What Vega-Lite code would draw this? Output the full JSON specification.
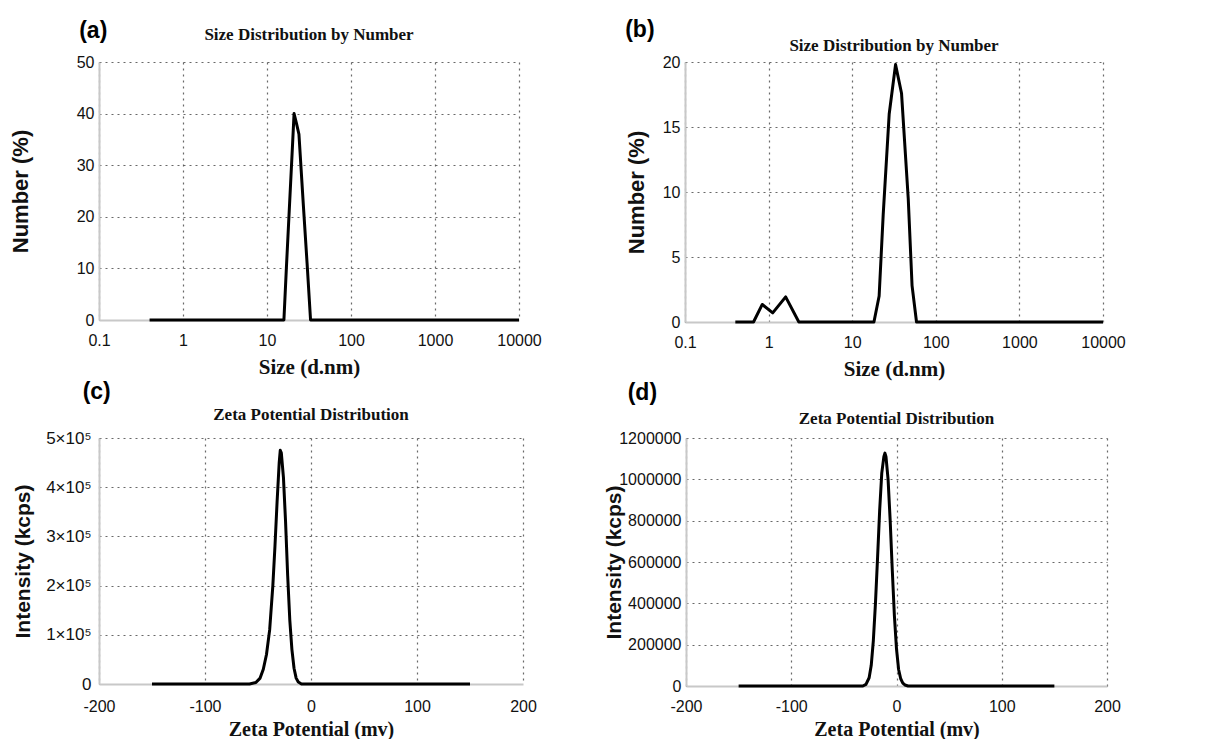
{
  "$schema": "https://vega.github.io/schema/vega-lite/v6.json",
  "background": "white",
  "padding": {"left": 9, "top": 19, "right": 0, "bottom": 0},
  "config": {
    "view": {"stroke": null},
    "title": {"font": "Liberation Serif", "fontWeight": "bold", "fontSize": 17, "color": "#111", "anchor": "middle", "offset": 10},
    "axis": {
      "domainColor": "#c8c8c8", "domainWidth": 2,
      "ticks": false,
      "labelFont": "Liberation Sans", "labelFontSize": 16, "labelColor": "#111",
      "gridColor": "#444", "gridDash": [2, 4], "gridWidth": 1.2, "gridOpacity": 0.8,
      "titleColor": "#111", "labelExpr": "datum.value + ''"
    },
    "axisX": {"titleFont": "Liberation Serif", "titleFontWeight": "bold", "titleFontSize": 21, "titlePadding": 8, "labelPadding": 12, "labelFlush": false},
    "axisY": {"titleFont": "Liberation Sans", "titleFontWeight": "bold", "titleFontSize": 22, "labelPadding": 5},
    "line": {"color": "#000", "strokeWidth": 3, "strokeJoin": "round"},
    "concat": {"spacing": 0}
  },
  "spacing": 2,
  "vconcat": [
    {
      "spacing": 83,
      "hconcat": [
        {
          "title": {"text": "(a)", "font": "Liberation Sans", "fontSize": 23, "fontWeight": "bold", "anchor": "start", "dx": 70, "dy": 27, "color": "#000"},
          "vconcat": [
            {
              "title": "Size Distribution by Number",
              "width": 420, "height": 258,
              "data": {"values": [
                {"size": 0.4, "pct": 0}, {"size": 15.9, "pct": 0}, {"size": 17, "pct": 10},
                {"size": 18.5, "pct": 22}, {"size": 20, "pct": 33}, {"size": 21, "pct": 40},
                {"size": 22.5, "pct": 38}, {"size": 24, "pct": 36}, {"size": 27, "pct": 22.6},
                {"size": 30, "pct": 11}, {"size": 33, "pct": 0}, {"size": 10000, "pct": 0}
              ]},
              "mark": {"type": "line"},
              "encoding": {
                "x": {"field": "size", "type": "quantitative", "scale": {"type": "log", "domain": [0.1, 10000]},
                      "axis": {"title": "Size (d.nm)", "values": [0.1, 1, 10, 100, 1000, 10000]}},
                "y": {"field": "pct", "type": "quantitative", "scale": {"domain": [0, 50]},
                      "axis": {"title": "Number (%)", "values": [0, 10, 20, 30, 40, 50], "titlePadding": 44}}
              }
            }
          ]
        },
        {
          "title": {"text": "(b)", "font": "Liberation Sans", "fontSize": 23, "fontWeight": "bold", "anchor": "start", "dx": 0, "dy": 24, "offset": 19, "color": "#000"},
          "vconcat": [
            {
              "title": {"text": "Size Distribution by Number", "offset": -1},
              "width": 418, "height": 260,
              "data": {"values": [
                {"size": 0.4, "pct": 0}, {"size": 0.66, "pct": 0}, {"size": 0.84, "pct": 1.35},
                {"size": 1.12, "pct": 0.7}, {"size": 1.6, "pct": 1.93}, {"size": 2.3, "pct": 0},
                {"size": 18.2, "pct": 0}, {"size": 21, "pct": 2.0}, {"size": 23.5, "pct": 8.3},
                {"size": 27.7, "pct": 16}, {"size": 33, "pct": 19.8}, {"size": 38.9, "pct": 17.6},
                {"size": 46.8, "pct": 9.5}, {"size": 52, "pct": 2.8}, {"size": 58.8, "pct": 0},
                {"size": 10000, "pct": 0}
              ]},
              "mark": {"type": "line"},
              "encoding": {
                "x": {"field": "size", "type": "quantitative", "scale": {"type": "log", "domain": [0.1, 10000]},
                      "axis": {"title": "Size (d.nm)", "values": [0.1, 1, 10, 100, 1000, 10000]}},
                "y": {"field": "pct", "type": "quantitative", "scale": {"domain": [0, 20]},
                      "axis": {"title": "Number (%)", "values": [0, 5, 10, 15, 20], "titlePadding": 14}}
              }
            }
          ]
        }
      ]
    },
    {
      "spacing": 66,
      "hconcat": [
        {
          "title": {"text": "(c)", "font": "Liberation Sans", "fontSize": 23, "fontWeight": "bold", "anchor": "start", "dx": 70, "dy": 8, "color": "#000"},
          "vconcat": [
            {
              "title": {"text": "Zeta Potential Distribution", "offset": 5},
              "width": 424, "height": 246,
              "data": {"values": [
                {"zeta": -150, "intensity": 0}, {"zeta": -58, "intensity": 0}, {"zeta": -52, "intensity": 3000},
                {"zeta": -48, "intensity": 12000}, {"zeta": -45, "intensity": 30000}, {"zeta": -42, "intensity": 60000},
                {"zeta": -39, "intensity": 110000}, {"zeta": -36, "intensity": 200000}, {"zeta": -34, "intensity": 280000},
                {"zeta": -32, "intensity": 370000}, {"zeta": -30, "intensity": 450000}, {"zeta": -29, "intensity": 475000},
                {"zeta": -28, "intensity": 470000}, {"zeta": -26, "intensity": 420000}, {"zeta": -24, "intensity": 330000},
                {"zeta": -22, "intensity": 220000}, {"zeta": -20, "intensity": 130000}, {"zeta": -18, "intensity": 70000},
                {"zeta": -16, "intensity": 32000}, {"zeta": -14, "intensity": 12000}, {"zeta": -12, "intensity": 4000},
                {"zeta": -9, "intensity": 0}, {"zeta": 150, "intensity": 0}
              ]},
              "mark": {"type": "line"},
              "encoding": {
                "x": {"field": "zeta", "type": "quantitative", "scale": {"domain": [-200, 200]},
                      "axis": {"title": "Zeta Potential (mv)", "values": [-200, -100, 0, 100, 200], "titleFontSize": 20, "labelPadding": 14, "titlePadding": 5}},
                "y": {"field": "intensity", "type": "quantitative", "scale": {"domain": [0, 500000]},
                      "axis": {"title": "Intensity (kcps)", "titleFontSize": 21, "values": [0, 100000, 200000, 300000, 400000, 500000],
                               "labelExpr": "datum.value == 0 ? '0' : (datum.value / 100000) + '×10⁵'", "labelFontSize": 17, "labelPadding": 8, "titlePadding": 12}}
              }
            }
          ]
        },
        {
          "title": {"text": "(d)", "font": "Liberation Sans", "fontSize": 23, "fontWeight": "bold", "anchor": "start", "dx": 24, "dy": 5, "color": "#000"},
          "vconcat": [
            {
              "title": {"text": "Zeta Potential Distribution", "offset": 2},
              "width": 421, "height": 248,
              "data": {"values": [
                {"zeta": -150, "intensity": 0}, {"zeta": -32, "intensity": 0}, {"zeta": -29, "intensity": 8000},
                {"zeta": -26, "intensity": 40000}, {"zeta": -24, "intensity": 100000}, {"zeta": -22, "intensity": 220000},
                {"zeta": -20, "intensity": 400000}, {"zeta": -18, "intensity": 620000}, {"zeta": -16, "intensity": 850000},
                {"zeta": -14, "intensity": 1030000}, {"zeta": -12, "intensity": 1110000}, {"zeta": -11, "intensity": 1127000},
                {"zeta": -10, "intensity": 1110000}, {"zeta": -8, "intensity": 1000000}, {"zeta": -6, "intensity": 800000},
                {"zeta": -4, "intensity": 560000}, {"zeta": -2, "intensity": 340000}, {"zeta": 0, "intensity": 180000},
                {"zeta": 2, "intensity": 80000}, {"zeta": 4, "intensity": 35000}, {"zeta": 6, "intensity": 14000},
                {"zeta": 8, "intensity": 5000}, {"zeta": 11, "intensity": 0}, {"zeta": 150, "intensity": 0}
              ]},
              "mark": {"type": "line"},
              "encoding": {
                "x": {"field": "zeta", "type": "quantitative", "scale": {"domain": [-200, 200]},
                      "axis": {"title": "Zeta Potential (mv)", "values": [-200, -100, 0, 100, 200], "titleFontSize": 20, "labelPadding": 12, "titlePadding": 5}},
                "y": {"field": "intensity", "type": "quantitative", "scale": {"domain": [0, 1200000]},
                      "axis": {"title": "Intensity (kcps)", "titleFontSize": 21, "values": [0, 200000, 400000, 600000, 800000, 1000000, 1200000],
                               "titlePadding": -6}}
              }
            }
          ]
        }
      ]
    }
  ]
}
